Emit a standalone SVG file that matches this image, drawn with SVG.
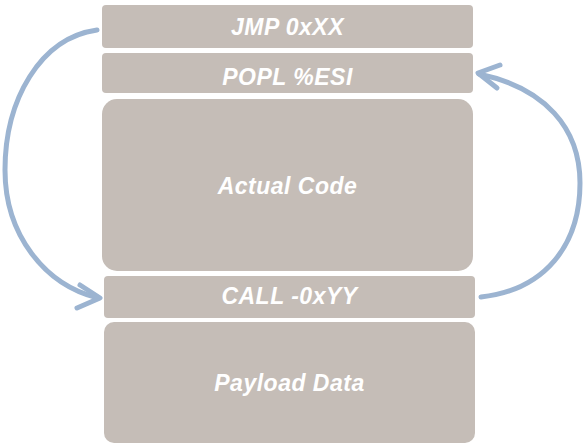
<svg xmlns="http://www.w3.org/2000/svg" width="585" height="447" viewBox="0 0 585 447">
<style>
.box{fill:#c5bdb7}
.lbl{font-family:"Liberation Sans",Arial,sans-serif;font-weight:bold;font-style:italic;font-size:23px;fill:#ffffff;text-anchor:middle;letter-spacing:0.5px}
.conn{fill:none;stroke:#9cb4d1;stroke-width:5;stroke-linecap:round;stroke-linejoin:round}
</style>
<rect width="585" height="447" fill="#ffffff"/>
<g id="jmp">
<rect class="box" x="102" y="5" width="371" height="43" rx="4"/>
<text class="lbl" x="287.5" y="35">JMP 0xXX</text>
</g>
<g id="popl">
<rect class="box" x="102" y="53" width="371" height="40" rx="4"/>
<text class="lbl" x="287.5" y="85">POPL %ESI</text>
</g>
<g id="actual-code">
<rect class="box" x="102" y="99" width="371" height="172" rx="15"/>
<text class="lbl" x="287.5" y="194">Actual Code</text>
</g>
<g id="call">
<rect class="box" x="104" y="276" width="371" height="42" rx="4"/>
<text class="lbl" x="289.5" y="304">CALL -0xYY</text>
</g>
<g id="payload">
<rect class="box" x="104" y="322" width="371" height="121" rx="10"/>
<text class="lbl" x="289.5" y="391">Payload Data</text>
</g>
<g id="connectors">
<path class="conn" d="M97,30 C40,38 5,100 5,170 C5,235 45,285 98,298"/>
<path class="conn" d="M80,285 L100,298 L77,308"/>
<path class="conn" d="M481,297 C545,290 580,245 580,183 C580,128 545,88 479,74"/>
<path class="conn" d="M500,65 L478,73 L497,88"/>
</g>
</svg>
